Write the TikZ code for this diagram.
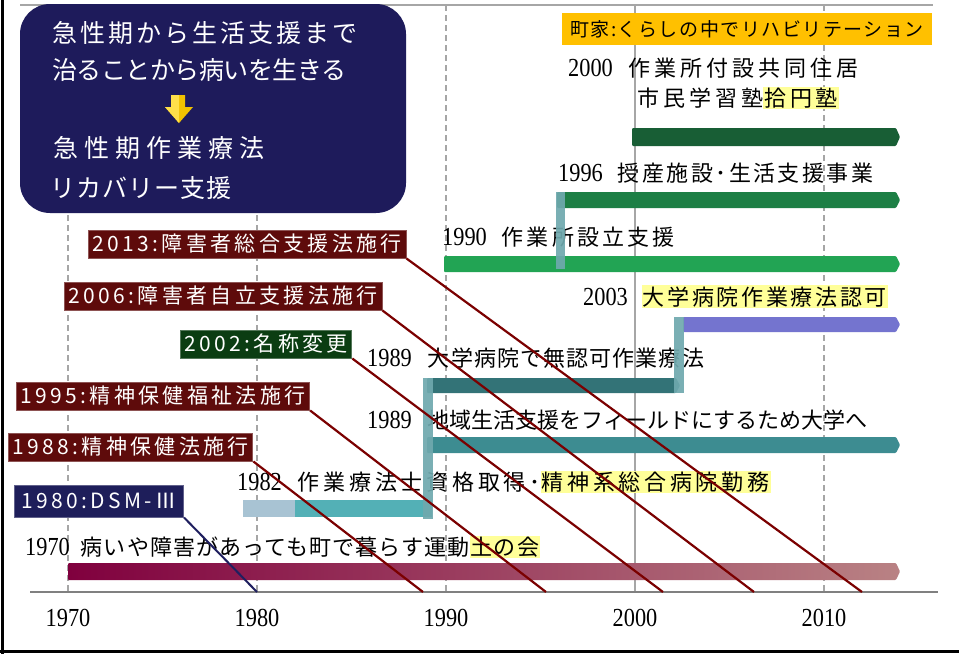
\documentclass[tikz,border=0pt]{standalone}
\usepackage{fontspec}
\usepackage{graphicx}
\setmainfont{Liberation Serif}
\newfontfamily\jpfont{Noto Sans CJK JP}
\definecolor{navybox}{HTML}{1E1B5B}
\definecolor{orangebox}{HTML}{FFC000}
\definecolor{hly}{HTML}{FFFF99}
\definecolor{lblred}{HTML}{5E0B0B}
\definecolor{lblgreen}{HTML}{0B3D12}
\definecolor{lblnavy}{HTML}{1E1E5A}
\definecolor{diagred}{HTML}{7B0000}
\definecolor{diagnavy}{HTML}{1F1F5F}
\definecolor{gridgray}{HTML}{A6A6A6}
\definecolor{axisgray}{HTML}{808080}
\definecolor{bgreenA}{HTML}{185E35}
\definecolor{bgreenB}{HTML}{1D7F45}
\definecolor{bgreenC}{HTML}{22A454}
\definecolor{bpurple}{HTML}{7474CF}
\definecolor{btealA}{HTML}{337377}
\definecolor{btealB}{HTML}{3D8C91}
\definecolor{btealC}{HTML}{53B0B6}
\definecolor{bpale}{HTML}{A8C3D3}
\definecolor{connteal}{HTML}{6FA9AE}
\definecolor{maroonA}{HTML}{80003E}
\definecolor{maroonB}{HTML}{B98284}
\definecolor{arrowgold}{HTML}{F2C200}
\definecolor{arrowgoldl}{HTML}{FFE04A}
\newcommand\jx[2]{{\jpfont\fontsize{22}{26}\selectfont\addfontfeature{LetterSpace=#1}#2}}
\newcommand\jbig[3]{{\jpfont\fontsize{#1}{#1}\selectfont\addfontfeature{LetterSpace=#2}#3}}
\newcommand\dg[1]{\scalebox{0.86}[1]{\fontsize{26}{28}\selectfont #1}}
\newcommand\hl[1]{{\setlength\fboxsep{1pt}\colorbox{hly}{#1}}}
\newcommand\tlbar[5]{\fill[#1,rounded corners=1pt] (#2,#4) -- ({#3-4},#4) -- (#3,{(#4+#5)/2}) -- ({#3-4},#5) -- (#2,#5) -- cycle;}
\begin{document}
\begin{tikzpicture}[x=1pt,y=-1pt,
  grid/.style={draw=gridgray, line width=2pt},
  gridd/.style={grid, dash pattern=on 6pt off 4pt},
  diag/.style={draw=diagred, line width=2.2pt},
  lbl/.style={anchor=west, inner xsep=4pt, inner ysep=0pt, minimum height=28pt, text=white,
    draw=#1!70!white, line width=1pt,
    fill=#1, font=\jpfont\fontsize{21}{24}\selectfont\addfontfeature{LetterSpace=16}},
  tl/.style={anchor=base west, inner sep=0pt},
  tick/.style={inner sep=0pt},
  conn/.style={fill=connteal, opacity=0.92}
]
\useasboundingbox (0,0) rectangle (959,654);
\fill[white] (0,0) rectangle (959,654);
% frame
\draw[black, line width=3pt] (2.5,0) -- (2.5,654);
\draw[black, line width=3pt] (0,651.5) -- (959,651.5);
\draw[gridgray, line width=2pt] (20,5) -- (933,5);
% grid
\draw[gridd] (68,5) -- (68,592);
\draw[gridd] (257,5) -- (257,592);
\draw[gridd] (446,5) -- (446,592);
\draw[grid] (635,5) -- (635,592);
\draw[gridd] (824,5) -- (824,592);
% axis
\draw[axisgray, line width=2.5pt] (30,592) -- (938,592);
\coordinate (a1980) at (257,592);
\coordinate (a1988) at (423,592);
\coordinate (a1995) at (546,592);
\coordinate (a2002) at (663,592);
\coordinate (a2006) at (754,592);
\coordinate (a2013) at (862,592);
\node[tick] (k1970) at (68,618) {\dg{1970}};
\node[tick] (k1980) at (257,618) {\dg{1980}};
\node[tick] (k1990) at (446,618) {\dg{1990}};
\node[tick] (k2000) at (635,618) {\dg{2000}};
\node[tick] (k2010) at (824,618) {\dg{2010}};
% top-left box
\fill[navybox, rounded corners=30pt] (20,4) rectangle (406,213);
\node[tl, text=white] (b1) at (52,42) {\jbig{25}{12}{急性期から生活支援まで}};
\node[tl, text=white] (b2) at (52,79) {\jbig{25}{-2}{治ることから病いを生きる}};
\fill[arrowgold] (171,95) -- (185,95) -- (185,107) -- (193,107) -- (179,123) -- (165,107) -- (171,107) -- cycle;
\fill[arrowgoldl] (171,95) -- (179,95) -- (179,123) -- (165,107) -- (171,107) -- cycle;
\node[tl, text=white] (b3) at (53,157) {\jbig{25}{24}{急性期作業療法}};
\node[tl, text=white] (b4) at (50,197) {\jbig{25}{4}{リカバリー支援}};
% orange box
\node[fill=orangebox, minimum width=370pt, minimum height=32pt, inner sep=0pt] (ob) at (747,29) {\jbig{19}{8}{町家:くらしの中でリハビリテーション}};
% bars
\shade[left color=maroonA, right color=maroonB, rounded corners=1pt] (68,563) -- (896,563) -- (900,571.5) -- (896,580) -- (68,580) -- cycle;
\fill[bpale] (243,500) rectangle (300,517);
\fill[btealC] (295,500) rectangle (432,517);
\tlbar{btealB}{427}{900}{437}{453}
\tlbar{btealA}{427}{680}{378}{393}
\tlbar{bpurple}{683}{900}{317}{332}
\tlbar{bgreenC}{444}{900}{256}{272}
\tlbar{bgreenB}{557}{900}{192}{208}
\tlbar{bgreenA}{632}{900}{128}{146}
% texts
\node[tl] (t2000) at (568,76) {\dg{2000}\hspace{16pt}\jx{18}{作業所付設共同住居}};
\node[tl] (t2000b) at (637,106) {\jx{18}{市民学習塾}\hl{\jx{18}{拾円塾}}};
\node[tl] (t1996) at (558,181) {\dg{1996}\hspace{15pt}\jx{11}{授産施設･生活支援事業}};
\node[tl] (t1990) at (442,245) {\dg{1990}\hspace{15pt}\jx{14}{作業所設立支援}};
\node[tl] (t2003) at (583,305) {\dg{2003}\hspace{14pt}\hl{\jx{12}{大学病院作業療法認可}}};
\node[tl] (t1989a) at (367,366) {\dg{1989}\hspace{16pt}\jx{5}{大学病院で無認可作業療法}};
\node[tl] (t1989b) at (367,428) {\dg{1989}\hspace{16pt}\jx{0}{地域生活支援をフィールドにするため大学へ}};
\node[tl] (t1982) at (237,490) {\dg{1982}\hspace{16pt}\jx{17}{作業療法士資格取得･}\hl{\jx{17}{精神系総合病院勤務}}};
\node[tl] (t1970) at (25,555) {\dg{1970}\hspace{11pt}\jx{5}{病いや障害があっても町で暮らす運動}\hl{\jx{5}{土の会}}};
% connectors
\fill[conn] (556,192) rectangle (565,269);
\fill[conn] (674,317) rectangle (684,393);
\fill[conn] (423,378) rectangle (433,519);
% labels
\node[lbl=lblred] (l2013) at (88,244) {2013:障害者総合支援法施行};
\node[lbl=lblred] (l2006) at (64,296) {2006:障害者自立支援法施行};
\node[lbl=lblgreen] (l2002) at (180,344) {2002:名称変更};
\node[lbl=lblred] (l1995) at (16,396) {1995:精神保健福祉法施行};
\node[lbl=lblred] (l1988) at (8,447) {1988:精神保健法施行};
\node[lbl=lblnavy, minimum height=32pt, minimum width=169pt] (l1980) at (14,501) {1980:DSM-Ⅲ};
% diagonals
\draw[diag] (l2013.south east) -- (a2013);
\draw[diag] (l2006.south east) -- (a2006);
\draw[diag] (l2002.south east) -- (a2002);
\draw[diag] (l1995.south east) -- (a1995);
\draw[diag] (l1988.south east) -- (a1988);
\draw[draw=diagnavy, line width=2pt] (l1980.south east) -- (a1980);
\end{tikzpicture}
\end{document}
